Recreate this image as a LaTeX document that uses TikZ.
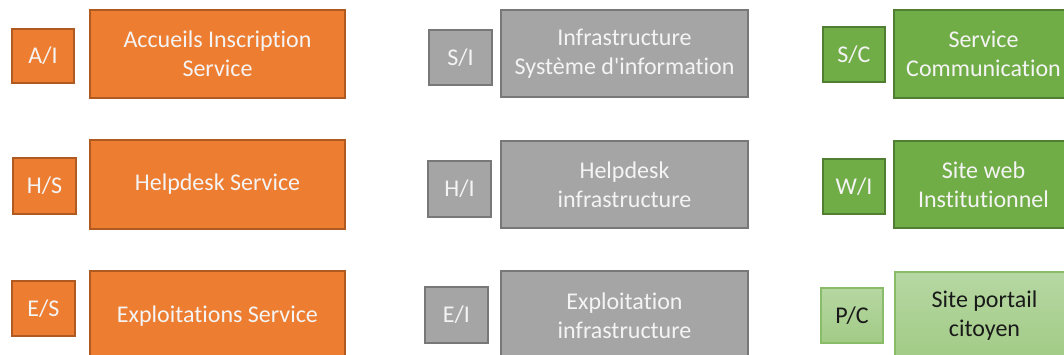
\documentclass[tikz,border=0pt]{standalone}
\usepackage{fontspec}
\newfontfamily\carl{Carlito}[Ligatures={NoCommon}]
\definecolor{orangeF}{HTML}{ED7D31}
\definecolor{orangeD}{HTML}{AE5A21}
\definecolor{grayF}{HTML}{A5A5A5}
\definecolor{grayD}{HTML}{787878}
\definecolor{greenF}{HTML}{70AD47}
\definecolor{greenD}{HTML}{507E32}
\definecolor{lgTop}{HTML}{B6D7A2}
\definecolor{lgBot}{HTML}{A2CB86}
\definecolor{lgD}{HTML}{88BC69}
\definecolor{txtW}{HTML}{F4F4F4}
\begin{document}
\begin{tikzpicture}[x=1pt,y=-1pt,
  box/.style={rectangle,inner sep=0pt,line width=1.2pt,align=center,
    font=\carl\fontsize{24}{29}\selectfont},
  orangebox/.style={box,fill=orangeF,draw=orangeD,text=txtW},
  graybox/.style={box,fill=grayF,draw=grayD,text=txtW},
  greenbox/.style={box,fill=greenF,draw=greenD,text=txtW},
  lightbox/.style={box,top color=lgTop,bottom color=lgBot,draw=lgD,text=black!90},
  sz/.style 2 args={minimum width=#1pt,minimum height=#2pt}]
\useasboundingbox (0,0) rectangle (1064,355);
% row 1
\node[orangebox,sz={62}{54}] (ai) at (43,56) {A/I};
\node[orangebox,sz={255}{88}] (ais) at (217.5,54) {Accueils Inscription\\Service};
\node[graybox,sz={63}{55}] (si) at (460.5,57.5) {S/I};
\node[graybox,sz={247}{87}] (sis) at (624.5,53.5) {Infrastructure\\Système d'information};
\node[greenbox,sz={62}{55}] (sc) at (854,54.5) {S/C};
\node[greenbox,sz={179}{88}] (scs) at (983.5,54) {Service\\Communication};
% row 2
\node[orangebox,sz={63}{56}] (hs) at (44.5,186) {H/S};
\node[orangebox,sz={255}{89}] (hss) at (217.5,184.5) {Helpdesk Service};
\node[graybox,sz={63}{56}] (hi) at (459.5,189) {H/I};
\node[graybox,sz={247}{87}] (his) at (624.5,184.5) {Helpdesk\\infrastructure};
\node[greenbox,sz={62}{55}] (wi) at (854,186.5) {W/I};
\node[greenbox,sz={179}{87}] (wis) at (983.5,184.5) {Site web\\Institutionnel};
% row 3
\node[orangebox,sz={63}{55}] (es) at (43.5,308.5) {E/S};
\node[orangebox,sz={255}{90}] (ess) at (217.5,316) {Exploitations Service};
\node[graybox,sz={63}{56}] (ei) at (456.5,315) {E/I};
\node[graybox,sz={247}{90}] (eis) at (624.5,316) {Exploitation\\infrastructure};
\node[lightbox,sz={62}{55}] (pc) at (852,315.5) {P/C};
\node[lightbox,sz={179}{88}] (pcs) at (984.5,316) {Site portail\\citoyen};
\end{tikzpicture}
\end{document}
